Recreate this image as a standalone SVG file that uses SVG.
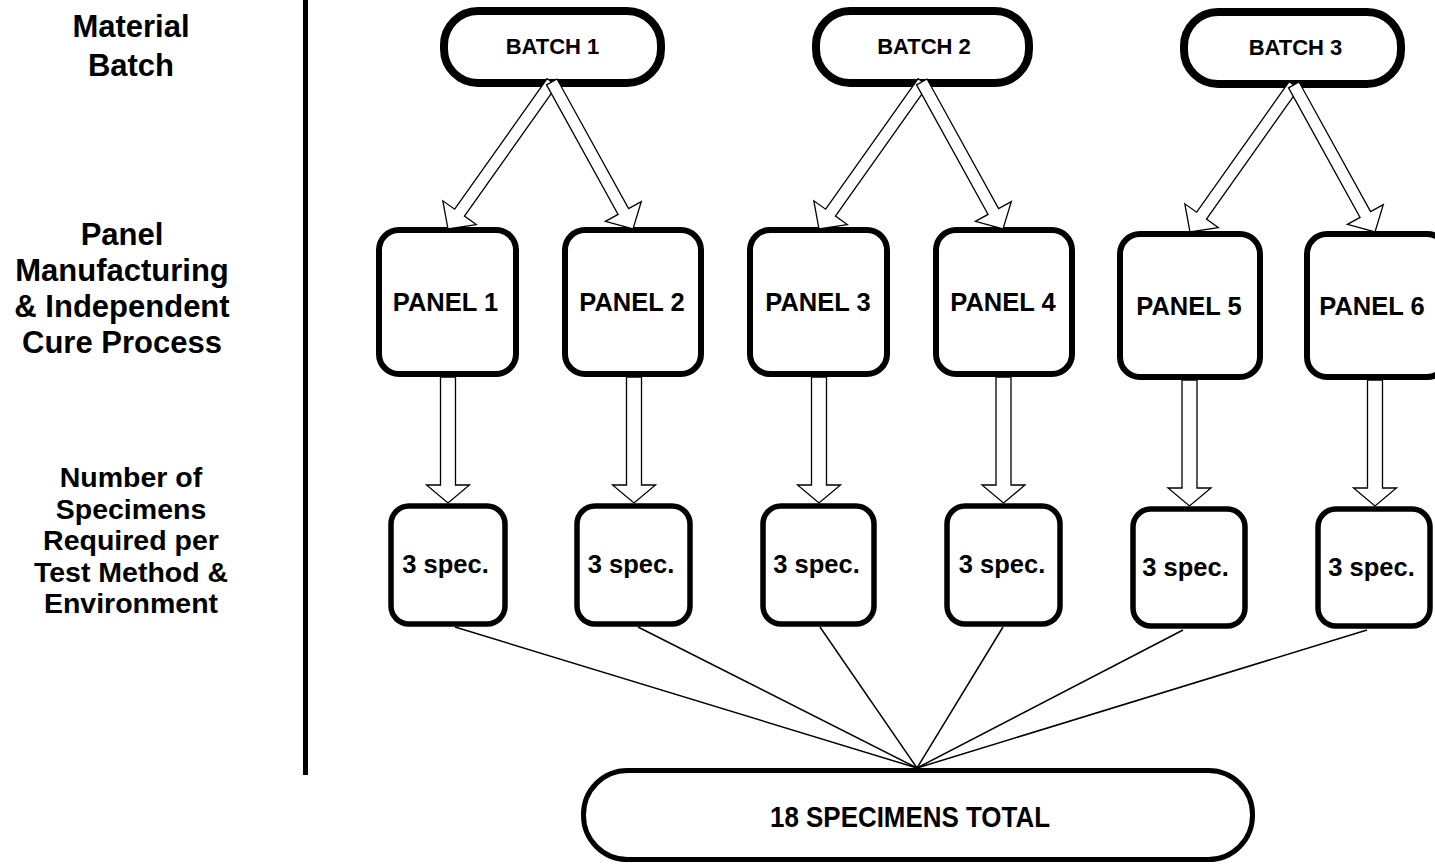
<svg xmlns="http://www.w3.org/2000/svg" xmlns:xlink="http://www.w3.org/1999/xlink" width="1435" height="864" viewBox="0 0 1435 864">
<style>
  .lbl { font-family: "Liberation Sans", Arial, sans-serif; font-weight: bold; fill: #000; text-anchor: middle; }
  .side { font-size: 31px; }
  .side3 { font-size: 28.5px; }
  .batch { font-size: 22px; }
  .panel { font-size: 25.5px; }
  .spec { font-size: 25.5px; }
  .total { font-size: 30px; }
  .bbox { fill: #fff; stroke: #000; stroke-width: 8; }
  .pbox { fill: #fff; stroke: #000; stroke-width: 6; }
  .sbox { fill: #fff; stroke: #000; stroke-width: 5.5; }
  .tbox { fill: #fff; stroke: #000; stroke-width: 5; }
  .arrow { fill: #fff; stroke: #000; stroke-width: 1.3; stroke-linejoin: miter; }
  .line { stroke: #000; stroke-width: 1.5; fill: none; }
</style>
<defs>
  <path id="varrow" d="M-7.5,-126 L-7.5,-18 L-21.5,-18 L0,0 L21.5,-18 L7.5,-18 L7.5,-126 Z"/>
  <path id="darrowL" d="M-6,-180 L-6,-20 L-20.5,-20 L0,0 L20.5,-20 L6,-20 L6,-180 Z"/>
  <path id="darrowR" d="M-6,-168 L-6,-20 L-20.5,-20 L0,0 L20.5,-20 L6,-20 L6,-168 Z"/>
</defs>
<rect width="1435" height="864" fill="#fff"/>

<g id="side-labels">
  <line x1="305.5" y1="0" x2="305.5" y2="775" stroke="#000" stroke-width="5"/>
  <text class="lbl side" x="131" y="37">Material</text>
  <text class="lbl side" x="131" y="76">Batch</text>
  <text class="lbl side" x="122" y="245">Panel</text>
  <text class="lbl side" x="122" y="281">Manufacturing</text>
  <text class="lbl side" x="122" y="317">&amp; Independent</text>
  <text class="lbl side" x="122" y="353">Cure Process</text>
  <text class="lbl side3" x="131" y="487">Number of</text>
  <text class="lbl side3" x="131" y="518.5">Specimens</text>
  <text class="lbl side3" x="131" y="550">Required per</text>
  <text class="lbl side3" x="131" y="581.5">Test Method &amp;</text>
  <text class="lbl side3" x="131" y="613">Environment</text>
</g>

<g id="batch1"><rect class="bbox" x="444" y="11" width="217" height="72" rx="34"/><text class="lbl batch" x="552.5" y="54">BATCH 1</text></g>
<g id="batch2"><rect class="bbox" x="816" y="11" width="213" height="72" rx="34"/><text class="lbl batch" x="924" y="54">BATCH 2</text></g>
<g id="batch3"><rect class="bbox" x="1184" y="12" width="217" height="72" rx="34"/><text class="lbl batch" x="1295.5" y="55">BATCH 3</text></g>

<g id="panel1"><rect class="pbox" x="379" y="230" width="137" height="144" rx="20"/><text class="lbl panel" x="445.5" y="311">PANEL 1</text></g>
<g id="panel2"><rect class="pbox" x="565" y="230" width="136" height="144" rx="20"/><text class="lbl panel" x="632" y="311">PANEL 2</text></g>
<g id="panel3"><rect class="pbox" x="750" y="230" width="137" height="144" rx="20"/><text class="lbl panel" x="818" y="311">PANEL 3</text></g>
<g id="panel4"><rect class="pbox" x="936" y="230" width="136" height="144" rx="20"/><text class="lbl panel" x="1003" y="311">PANEL 4</text></g>
<g id="panel5"><rect class="pbox" x="1120" y="234" width="140" height="143" rx="20"/><text class="lbl panel" x="1189" y="315">PANEL 5</text></g>
<g id="panel6"><rect class="pbox" x="1307" y="234" width="140" height="143" rx="20"/><text class="lbl panel" x="1372" y="315">PANEL 6</text></g>

<g id="spec1"><rect class="sbox" x="391" y="506" width="114" height="118" rx="18"/><text class="lbl spec" x="445.5" y="573">3 spec.</text></g>
<g id="spec2"><rect class="sbox" x="577" y="506" width="113" height="118" rx="18"/><text class="lbl spec" x="631" y="573">3 spec.</text></g>
<g id="spec3"><rect class="sbox" x="763" y="506" width="111" height="118" rx="18"/><text class="lbl spec" x="816.5" y="573">3 spec.</text></g>
<g id="spec4"><rect class="sbox" x="947" y="506" width="113" height="118" rx="18"/><text class="lbl spec" x="1002" y="573">3 spec.</text></g>
<g id="spec5"><rect class="sbox" x="1133" y="509" width="112" height="117" rx="18"/><text class="lbl spec" x="1185.5" y="576">3 spec.</text></g>
<g id="spec6"><rect class="sbox" x="1318" y="509" width="112" height="117" rx="18"/><text class="lbl spec" x="1371.5" y="576">3 spec.</text></g>

<g id="total"><rect class="tbox" x="583.5" y="770.5" width="669" height="89" rx="44"/><text class="lbl total" x="910" y="827" textLength="280" lengthAdjust="spacingAndGlyphs">18 SPECIMENS TOTAL</text></g>

<g id="connectors">
  <use class="arrow" href="#darrowL" transform="translate(448,229) rotate(35.3)"/>
  <use class="arrow" href="#darrowR" transform="translate(633,229) rotate(-28.9)"/>
  <use class="arrow" href="#darrowL" transform="translate(819,229) rotate(35.3)"/>
  <use class="arrow" href="#darrowR" transform="translate(1003,229) rotate(-28.9)"/>
  <use class="arrow" href="#darrowL" transform="translate(1190,232) rotate(35.3)"/>
  <use class="arrow" href="#darrowR" transform="translate(1375,232) rotate(-28.9)"/>
  <use class="arrow" href="#varrow" x="448" y="503"/>
  <use class="arrow" href="#varrow" x="634" y="503"/>
  <use class="arrow" href="#varrow" x="819" y="503"/>
  <use class="arrow" href="#varrow" x="1003.5" y="503"/>
  <use class="arrow" href="#varrow" x="1189.5" y="506"/>
  <use class="arrow" href="#varrow" x="1375" y="506"/>
  <line class="line" x1="455" y1="627" x2="917" y2="768"/>
  <line class="line" x1="638" y1="627" x2="917" y2="768"/>
  <line class="line" x1="820" y1="627" x2="917" y2="768"/>
  <line class="line" x1="1003" y1="627" x2="917" y2="768"/>
  <line class="line" x1="1183" y1="630" x2="917" y2="768"/>
  <line class="line" x1="1367" y1="630" x2="917" y2="768"/>
</g>
</svg>
